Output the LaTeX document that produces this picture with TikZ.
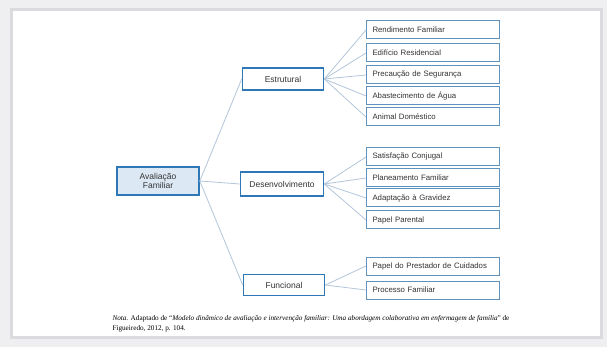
\documentclass[tikz,border=0pt]{standalone}
\usepackage{fontspec}
\setmainfont{Liberation Serif}
\setsansfont{Liberation Sans}
\usetikzlibrary{positioning}
\definecolor{cblue}{HTML}{2F78B8}
\definecolor{cleaf}{HTML}{5F93BF}
\definecolor{cfill}{HTML}{DCE9F5}
\definecolor{cline}{HTML}{B3C6DA}
\definecolor{cframe}{HTML}{DADADF}
\definecolor{cback}{HTML}{EFEFF1}
\definecolor{ctext}{HTML}{333333}
\tikzset{
  every picture/.style={font=\sffamily},
  root/.style={draw=cblue, fill=cfill, line width=1.6pt, align=center, text=ctext, minimum width=82pt, minimum height=28pt, inner sep=2pt, font=\sffamily\fontsize{8.5}{9.5}\selectfont},
  branch/.style={draw=cblue, fill=white, line width=1.6pt, text=ctext, minimum width=81pt, minimum height=22pt, inner sep=2pt, font=\sffamily\fontsize{8.5}{9.5}\selectfont},
  leaf/.style={draw=cleaf, fill=white, line width=1pt, anchor=west, text=ctext, text width=121pt, align=left, minimum height=18pt, inner xsep=6pt, inner ysep=2pt, font=\sffamily\fontsize{7.8}{9}\selectfont},
  link/.style={draw=cline, line width=0.8pt},
  note/.style={anchor=north west, align=left, text=black, font=\rmfamily\fontsize{7.2}{10}\selectfont},
}

\begin{document}
\begin{tikzpicture}[x=1pt, y=-1pt]
  % frame
  \fill[cback] (0,0) rectangle (607,347);
  \draw[cframe, fill=white, line width=3pt] (11,10) rectangle (601,337);
  \useasboundingbox (0,0) rectangle (607,347);

  \node[root] (av) at (158,181) {Avaliação\\Familiar};
  \node[branch] (est) at (283,79) {Estrutural};
  \node[branch, minimum width=83pt, minimum height=24pt] (des) at (282,184) {Desenvolvimento};
  \node[branch, minimum height=21pt] (fun) at (284,285) {Funcional};

  % Estrutural
  \node[leaf] (e1) at (366,30) {Rendimento Familiar};
  \node[leaf] (e2) at (366,53) {Edifício Residencial};
  \node[leaf] (e3) at (366,75) {Precaução de Segurança};
  \node[leaf] (e4) at (366,96) {Abastecimento de Água};
  \node[leaf] (e5) at (366,117) {Animal Doméstico};
  % Desenvolvimento
  \node[leaf] (d1) at (366,157) {Satisfação Conjugal};
  \node[leaf] (d2) at (366,178) {Planeamento Familiar};
  \node[leaf] (d3) at (366,198) {Adaptação à Gravidez};
  \node[leaf] (d4) at (366,220) {Papel Parental};
  % Funcional
  \node[leaf] (f1) at (366,266) {Papel do Prestador de Cuidados};
  \node[leaf] (f2) at (366,290) {Processo Familiar};

  \draw[link] (av.east) -- (est.west); \draw[link] (av.east) -- (des.west); \draw[link] (av.east) -- (fun.west);
  \foreach \c in {e1,e2,e3,e4,e5} \draw[link] (est.east) -- (\c.west);
  \foreach \c in {d1,d2,d3,d4} \draw[link] (des.east) -- (\c.west);
  \foreach \c in {f1,f2} \draw[link] (fun.east) -- (\c.west);

  \node[note] (nota) at (109,312) {\textit{Nota.} Adaptado de ``\textit{Modelo dinâmico de avaliação e intervenção familiar: Uma abordagem colaborativa em enfermagem de família}'' de\\Figueiredo, 2012, p. 104.};
\end{tikzpicture}
\end{document}
